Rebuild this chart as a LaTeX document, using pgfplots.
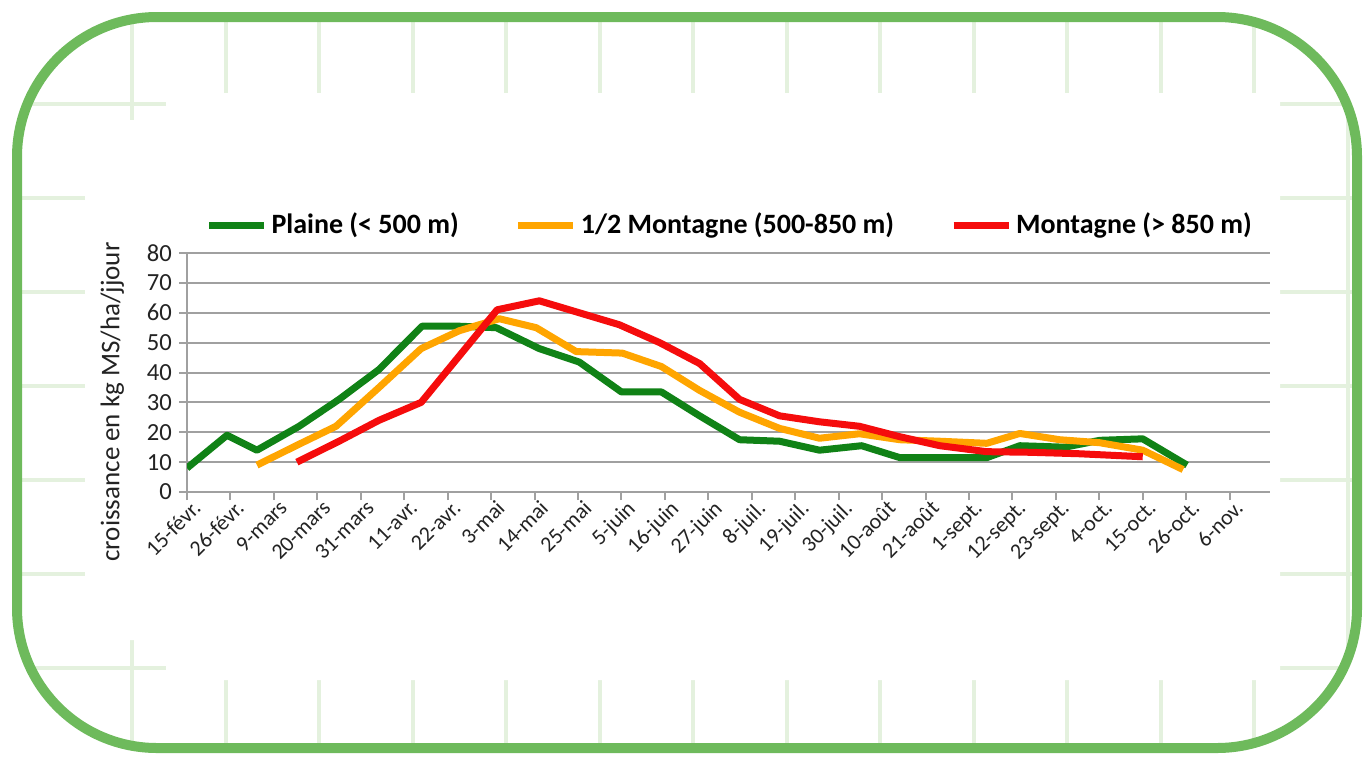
\documentclass[border=0pt]{standalone}
\usepackage{pgfplots}
\pgfplotsset{compat=1.18}
\usepackage{fontspec}
\setmainfont{Carlito}
\definecolor{plaine}{RGB}{16,130,22}
\definecolor{demi}{RGB}{255,165,0}
\definecolor{mont}{RGB}{245,12,12}
\definecolor{frameg}{RGB}{110,186,92}
\definecolor{bgline}{RGB}{228,241,222}
\definecolor{gridg}{RGB}{160,160,160}
\definecolor{txt}{RGB}{35,35,35}

\pgfplotstableread{
x y
0 8
0.92 19
1.61 14
2.58 22
3.50 31
4.42 41
5.41 55.5
6.27 55.5
7.12 55
8.11 48
9.03 43.5
10.0 33.5
10.92 33.5
11.80 25.5
12.72 17.5
13.64 17
14.56 14
15.53 15.5
16.41 11.5
17.33 11.5
18.41 11.5
19.17 15.5
20.21 15
21.01 17.3
22.0 17.8
23.02 9
}\plaine

\pgfplotstableread{
x y
1.61 9
2.58 16
3.43 22
4.42 35
5.39 48
6.27 54
7.19 58
8.04 55
8.96 47
10.02 46.5
10.92 42
11.80 34
12.72 26.7
13.64 21.3
14.56 18
15.48 19.5
16.41 17.5
17.33 17
18.41 16.3
19.17 19.6
20.09 17.5
21.01 16.5
22.0 14
22.93 7.5
}\demimont

\pgfplotstableread{
x y
2.53 10
3.50 17
4.42 24
5.39 30
7.14 61
8.11 64
9.03 60
9.95 56
10.88 50
11.80 43
12.72 31
13.64 25.5
14.56 23.5
15.48 22
16.41 18.5
17.33 15.5
18.41 13.5
19.4 13.3
20.55 12.8
22.0 11.8
}\montagne

\begin{document}
\begin{tikzpicture}
\path[use as bounding box] (0,0) rectangle (682pt,-378pt);
\begin{scope}[x=0.5pt,y=-0.5pt]
  \begin{scope}
    \clip[rounded corners=70pt] (17,17) rectangle (1357,748);
    \foreach \x in {132,225.5,...,1360} \draw[bgline,line width=2pt] (\x,0) -- (\x,756);
    \foreach \y in {104,198,...,756} \draw[bgline,line width=2pt] (0,\y) -- (1364,\y);
  \end{scope}
  \fill[white] (166,93) -- (1280,93) -- (1280,680) -- (166,680) -- (166,640) -- (85,640) -- (85,120) -- (166,120) -- cycle;
  \draw[frameg,line width=5pt,rounded corners=70pt] (17,17) rectangle (1357,748);
\end{scope}
\begin{axis}[
  at={(93.5pt,-246pt)}, anchor=south west, scale only axis,
  width=541.5pt, height=119.5pt,
  xmin=0, xmax=24.93, ymin=0, ymax=80,
  axis x line*=bottom, axis y line*=left,
  axis line style={gridg,line width=1pt,-},
  ytick={0,10,...,80}, ymajorgrids,
  major grid style={gridg,line width=1pt},
  xtick={0,...,24},
  xticklabels={15-févr.,26-févr.,9-mars,20-mars,31-mars,11-avr.,22-avr.,3-mai,14-mai,25-mai,5-juin,16-juin,27-juin,8-juil.,19-juil.,30-juil.,10-août,21-août,1-sept.,12-sept.,23-sept.,4-oct.,15-oct.,26-oct.,6-nov.},
  tick align=outside, major tick length=4pt,
  tick style={gridg,line width=1pt},
  xticklabel style={rotate=45,anchor=north east,font=\fontsize{11}{11}\selectfont,text=txt,inner sep=1pt,xshift=3pt},
  yticklabel style={font=\fontsize{12.3}{12}\selectfont,text=txt},
  /pgf/number format/assume math mode=true,
  ylabel={croissance en kg MS/ha/jjour},
  ylabel style={font=\fontsize{13.5}{13.5}\selectfont,text=txt,at={(axis description cs:-0.069,0.377)},anchor=center},
  legend columns=3,
  legend style={draw=none,fill=none,at={(axis description cs:0.502,1.117)},anchor=center,
    font=\bfseries\fontsize{14}{14}\selectfont,
    /tikz/every even column/.append style={column sep=26pt}},
  legend image code/.code={\draw[#1,line width=3.5pt] (0pt,0pt) -- (27.5pt,0pt);},
]
\addplot[plaine,line width=3.5pt,line join=round] table[x=x,y=y] {\plaine};
\addlegendentry{Plaine (< 500 m)}
\addplot[demi,line width=3.5pt,line join=round] table[x=x,y=y] {\demimont};
\addlegendentry{1/2 Montagne (500-850 m)}
\addplot[mont,line width=3.5pt,line join=round] table[x=x,y=y] {\montagne};
\addlegendentry{Montagne (> 850 m)}
\end{axis}
\end{tikzpicture}
\end{document}
